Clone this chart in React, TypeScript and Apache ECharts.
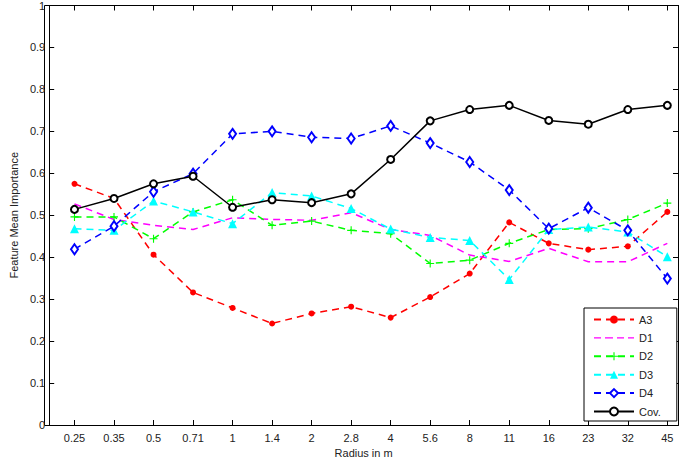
import React, { useEffect, useRef } from "react";
import * as echarts from "echarts";

const radiusLabels = ["0.25", "0.35", "0.5", "0.71", "1", "1.4", "2", "2.8", "4", "5.6", "8", "11", "16", "23", "32", "45"];
const yTickLabels = ["0", "0.1", "0.2", "0.3", "0.4", "0.5", "0.6", "0.7", "0.8", "0.9", "1"];

const a3 = [0.575, 0.540, 0.406, 0.316, 0.279, 0.242, 0.266, 0.282, 0.256, 0.305, 0.361, 0.483, 0.433, 0.418, 0.426, 0.508];
const d1 = [0.527, 0.490, 0.476, 0.466, 0.494, 0.490, 0.488, 0.506, 0.466, 0.452, 0.405, 0.390, 0.421, 0.389, 0.389, 0.433];
const d2 = [0.496, 0.496, 0.444, 0.508, 0.537, 0.476, 0.486, 0.464, 0.456, 0.385, 0.393, 0.433, 0.466, 0.468, 0.490, 0.529];
const d3 = [0.468, 0.464, 0.534, 0.508, 0.480, 0.554, 0.546, 0.516, 0.467, 0.447, 0.440, 0.347, 0.466, 0.472, 0.460, 0.401];
const d4 = [0.419, 0.474, 0.556, 0.599, 0.694, 0.700, 0.686, 0.683, 0.713, 0.672, 0.627, 0.560, 0.468, 0.518, 0.464, 0.349];
const cov = [0.514, 0.540, 0.575, 0.593, 0.519, 0.537, 0.530, 0.551, 0.633, 0.725, 0.752, 0.762, 0.726, 0.717, 0.752, 0.762];

const FONT = "'Liberation Sans', Arial, sans-serif";
const TXT = "#222";
const idx = radiusLabels.map((_, i) => i);
const toPairs = (arr: number[]) => arr.map((v, i) => [i, v]);
const PLUS = "path://M4.3,0H5.7V4.3H10V5.7H5.7V10H4.3V5.7H0V4.3H4.3Z";
const DASHED_ICON = "path://M0,4.3H7V5.7H0Z M11,4.3H19V5.7H11Z M23,4.3H30V5.7H23Z M34,4.3H40V5.7H34Z";
const DASH = [7, 5];

const GRID = { left: 44, right: 3, top: 5, bottom: 42 };
const W = 681;
const H = 467;

export default function App() {
  const ref = useRef<HTMLDivElement>(null);
  useEffect(() => {
    const chart = echarts.init(ref.current!, null, { renderer: "svg" });
    const xCommon = {
      type: "value" as const,
      min: -0.64,
      max: 15.27,
      splitLine: { show: false },
      axisLine: { show: true, onZero: false, lineStyle: { color: "#000", width: 1 } },
      axisTick: { show: true, inside: true, length: 5, customValues: idx, lineStyle: { color: "#000" } },
    };
    const yCommon = {
      type: "value" as const,
      min: 0,
      max: 1,
      interval: 0.1,
      splitLine: { show: false },
      axisLine: { show: true, onZero: false, lineStyle: { color: "#000", width: 1 } },
      axisTick: { show: true, inside: true, length: 5, lineStyle: { color: "#000" } },
    };
    const mk = (name: string, data: number[], color: string, extra: any) => ({
      name,
      type: "line",
      data: toPairs(data),
      xAxisIndex: 0,
      yAxisIndex: 0,
      lineStyle: { color, width: 1.5, type: DASH },
      itemStyle: { color },
      ...extra,
    });
    chart.setOption({
      animation: false,
      grid: { ...GRID },
      graphic: [
        {
          type: "rect",
          silent: true,
          z: 0,
          shape: { x: GRID.left + 0.5, y: GRID.top + 0.5, width: W - GRID.left - GRID.right, height: H - GRID.top - GRID.bottom },
          style: { fill: "none", stroke: "#000", lineWidth: 1 },
        },
      ],
      xAxis: [
        {
          ...xCommon,
          position: "bottom",
          name: "Radius in m",
          nameLocation: "middle",
          nameGap: 21,
          nameTextStyle: { fontFamily: FONT, fontSize: 11, color: TXT },
          axisLabel: {
            customValues: idx,
            formatter: (v: number) => radiusLabels[Math.round(v)] ?? "",
            fontFamily: FONT,
            fontSize: 11,
            color: TXT,
            margin: 7,
          },
        },
        { ...xCommon, position: "top", axisLabel: { show: false } },
      ],
      yAxis: [
        {
          ...yCommon,
          position: "left",
          name: "Feature Mean Importance",
          nameLocation: "middle",
          nameGap: 30,
          nameTextStyle: { fontFamily: FONT, fontSize: 11, color: TXT },
          axisLabel: {
            formatter: (v: number) => yTickLabels[Math.round(v * 10)] ?? "",
            fontFamily: FONT,
            fontSize: 11,
            color: TXT,
            margin: 4,
          },
        },
        { ...yCommon, position: "right", axisLabel: { show: false } },
      ],
      legend: {
        orient: "vertical",
        left: 584,
        top: 308,
        itemWidth: 40,
        itemHeight: 10,
        itemGap: 7.4,
        padding: [6, 16, 4, 9],
        borderColor: "#000",
        borderWidth: 1,
        backgroundColor: "#fff",
        textStyle: { fontFamily: FONT, fontSize: 11, color: TXT },
        data: ["A3", { name: "D1", icon: DASHED_ICON }, "D2", "D3", "D4", "Cov."],
      },
      series: [
        mk("A3", a3, "#ff0000", { symbol: "circle", symbolSize: 6 }),
        mk("D1", d1, "#ff00ff", { symbol: "none", showSymbol: false }),
        mk("D2", d2, "#00ff00", { symbol: PLUS, symbolSize: 8 }),
        mk("D3", d3, "#00ffff", { symbol: "triangle", symbolSize: 9 }),
        mk("D4", d4, "#0000ff", { symbol: "emptyDiamond", symbolSize: [7, 10], itemStyle: { color: "#0000ff", borderWidth: 1.5 } }),
        {
          name: "Cov.",
          type: "line",
          data: toPairs(cov),
          lineStyle: { color: "#000", width: 1.5, type: "solid" },
          itemStyle: { color: "#000", borderWidth: 1.5 },
          symbol: "emptyCircle",
          symbolSize: 7,
        },
        {
          name: "_frame",
          type: "line",
          xAxisIndex: 1,
          yAxisIndex: 1,
          data: [],
          silent: true,
        },
      ],
    });
    return () => chart.dispose();
  }, []);
  return <div ref={ref} style={{ width: W, height: H, position: "absolute", left: 0, top: 0 }} />;
}
